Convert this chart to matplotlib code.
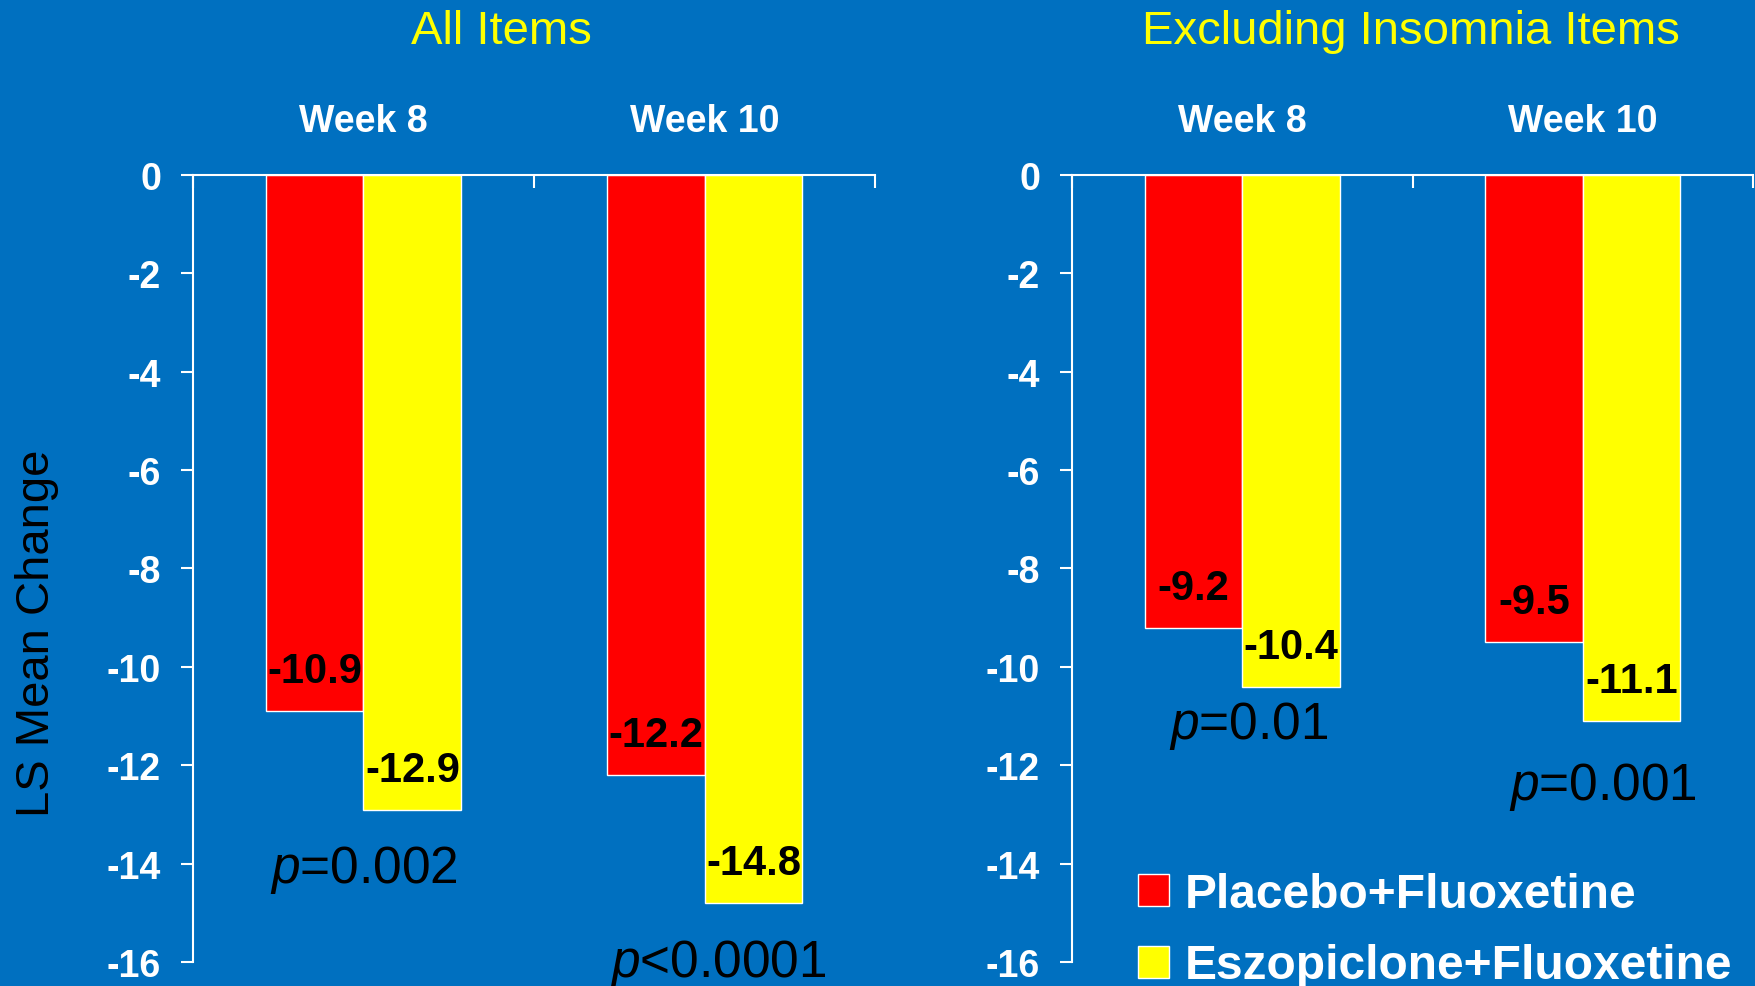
import matplotlib
matplotlib.use("Agg")
import matplotlib.pyplot as plt
from matplotlib.patches import Patch
import numpy as np

plt.rcParams["font.family"] = ["Liberation Sans", "DejaVu Sans"]
plt.rcParams["axes.unicode_minus"] = False
plt.rcParams["mathtext.fontset"] = "custom"
plt.rcParams["mathtext.it"] = "Liberation Sans:italic"
plt.rcParams["mathtext.rm"] = "Liberation Sans"

# Data
weeks = ["Week 8", "Week 10"]
panel_titles = ["All Items", "Excluding Insomnia Items"]
series_names = ["Placebo+Fluoxetine", "Eszopiclone+Fluoxetine"]
placebo_all = [-10.9, -12.2]
eszop_all = [-12.9, -14.8]
placebo_excl = [-9.2, -9.5]
eszop_excl = [-10.4, -11.1]
pvals_all = ["=0.002", "<0.0001"]
pvals_excl = ["=0.01", "=0.001"]
yticks = [0, -2, -4, -6, -8, -10, -12, -14, -16]

BG = "#0070C0"
RED = "#FF0000"
YEL = "#FFFF00"
W = 0.287

fig = plt.figure(figsize=(17.56, 9.87), dpi=100, facecolor=BG)

ax_l = fig.add_axes([0.1099, 0.0243, 0.3884, 0.7974])
ax_r = fig.add_axes([0.6105, 0.0243, 0.3878, 0.7974])

# p-value label placement (x in category units, y in data units)
p_pos_all = [(0.0, -14.1), (1.04, -16.02)]
p_pos_excl = [(0.02, -11.18), (1.06, -12.42)]


def draw_panel(ax, placebo, eszop, pvals, ppos):
    ax.set_facecolor(BG)
    x = np.arange(len(weeks))
    ax.bar(x - W / 2, placebo, width=W, color=RED, edgecolor="white", linewidth=1.0, zorder=2)
    ax.bar(x + W / 2, eszop, width=W, color=YEL, edgecolor="white", linewidth=1.0, zorder=2)
    for xi, v in zip(x - W / 2, placebo):
        ax.text(xi, v + 0.81, f"{v:.1f}", ha="center", va="center",
                fontsize=30, fontweight="bold", color="black", zorder=3)
    for xi, v in zip(x + W / 2, eszop):
        ax.text(xi, v + 0.81, f"{v:.1f}", ha="center", va="center",
                fontsize=30, fontweight="bold", color="black", zorder=3)
    for (px, py), s in zip(ppos, pvals):
        ax.text(px, py, "$p$" + s, ha="center", va="center",
                fontsize=37, color="black", clip_on=False)
    for xi, name in zip(x, weeks):
        ax.text(xi, 1.09, name, ha="center", va="center",
                fontsize=27, fontweight="bold", color="white", clip_on=False)

    ax.set_xlim(-0.5, 1.5)
    ax.set_ylim(-16, 0)
    ax.set_yticks(yticks)
    ax.set_yticklabels([str(t) for t in yticks])
    ax.tick_params(axis="y", colors="white", labelcolor="white", labelsize=27,
                   length=9, width=1.5, pad=14, direction="out")
    for lab in ax.get_yticklabels():
        lab.set_fontweight("bold")
    ax.xaxis.set_ticks_position("top")
    ax.set_xticks([-0.5, 0.5, 1.5])
    ax.set_xticklabels([])
    ax.tick_params(axis="x", colors="white", length=9, width=1.5, direction="in")
    for side in ["bottom", "right"]:
        ax.spines[side].set_visible(False)
    for side in ["top", "left"]:
        ax.spines[side].set_color("white")
        ax.spines[side].set_linewidth(1.5)


draw_panel(ax_l, placebo_all, eszop_all, pvals_all, p_pos_all)
draw_panel(ax_r, placebo_excl, eszop_excl, pvals_excl, p_pos_excl)

fig.text(0.2853, 0.968, panel_titles[0], ha="center", va="center", fontsize=34, color=YEL)
fig.text(0.8035, 0.968, panel_titles[1], ha="center", va="center", fontsize=34, color=YEL)
fig.text(0.021, 1 - 633 / 987, "LS Mean Change", rotation=90, ha="center", va="center",
         fontsize=34, color="black")

handles = [Patch(facecolor=RED, edgecolor="white", linewidth=1.0),
           Patch(facecolor=YEL, edgecolor="white", linewidth=1.0)]
leg = fig.legend(handles, series_names, loc="upper left", bbox_to_anchor=(0.648, 0.116),
                 frameon=False, borderpad=0, borderaxespad=0, handlelength=0.65,
                 handleheight=0.65, handletextpad=0.33, labelspacing=0.56,
                 prop={"size": 34.5, "weight": "bold"})
for t in leg.get_texts():
    t.set_color("white")

fig.savefig("out.png", dpi=100, facecolor=BG)
